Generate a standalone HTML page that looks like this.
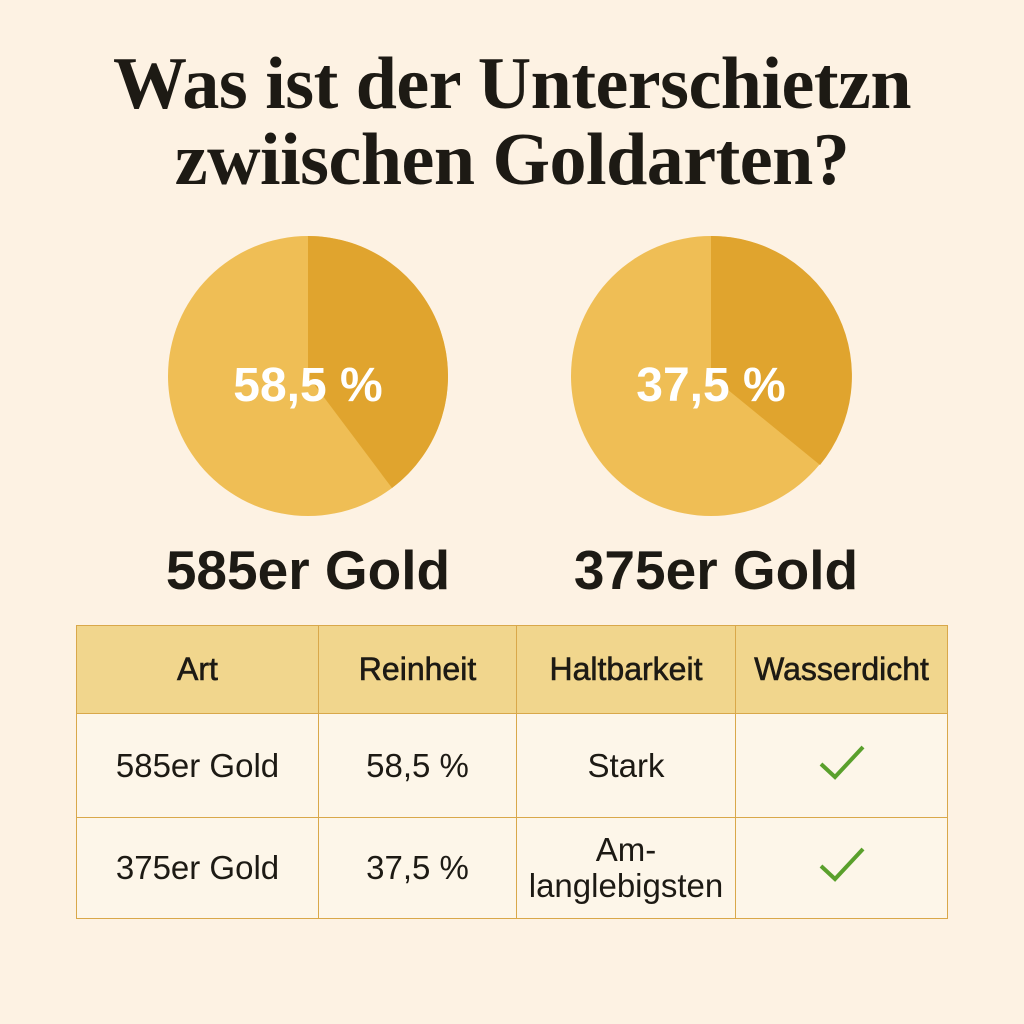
<!DOCTYPE html>
<html><head><meta charset="utf-8"><style>
body{margin:0;width:1024px;height:1024px;background:#fdf2e3;overflow:hidden;position:relative;font-family:"Liberation Sans",sans-serif;color:#1d1a14}
.t{position:absolute;left:0;width:1024px;text-align:center;font-family:"Liberation Serif",serif;font-weight:bold;font-size:74px;letter-spacing:-0.5px}
.l{position:absolute;width:400px;text-align:center;font-weight:bold;font-size:55px}
table{position:absolute;left:76px;top:625px;border-collapse:collapse;width:872px}
td{border:1.5px solid #d9a84a;text-align:center;font-size:33px;background:#fdf6e9;padding:0}
tr.h td{background:#f1d68d;height:87px;font-size:32px;-webkit-text-stroke:0.6px #1d1a14}
</style></head><body>
<div class="t" style="top:42px">Was ist der Unterschietzn</div>
<div class="t" style="top:118px">zwiischen Goldarten?</div>
<svg width="1024" height="1024" style="position:absolute;left:0;top:0">
<circle cx="308" cy="376" r="140" fill="#efbe55"/>
<path d="M308 376 L308 236 A140 140 0 0 1 392 488 Z" fill="#e0a42e"/>
<circle cx="711" cy="376" r="140" fill="#efbe55"/>
<path d="M711 376 L711 236 A140 140 0 0 1 820 465 Z" fill="#e0a42e"/>
<text x="308" y="401" text-anchor="middle" fill="#fff" font-family="Liberation Sans" font-weight="bold" font-size="48">58,5 %</text>
<text x="711" y="401" text-anchor="middle" fill="#fff" font-family="Liberation Sans" font-weight="bold" font-size="48">37,5 %</text>
</svg>
<div class="l" style="left:108px;top:538px">585er Gold</div>
<div class="l" style="left:516px;top:538px">375er Gold</div>
<table>
<tr class="h"><td style="width:241px">Art</td><td style="width:197px">Reinheit</td><td style="width:218px">Haltbarkeit</td><td>Wasserdicht</td></tr>
<tr style="height:104px"><td>585er Gold</td><td>58,5 %</td><td>Stark</td><td><svg width="50" height="40"><path d="M4 22 L18 35 L46 5" stroke="#5aa02c" stroke-width="4" fill="none"/></svg></td></tr>
<tr style="height:101px"><td>375er Gold</td><td>37,5 %</td><td style="line-height:36px">Am-<br>langlebigsten</td><td><svg width="50" height="40"><path d="M4 22 L18 35 L46 5" stroke="#5aa02c" stroke-width="4" fill="none"/></svg></td></tr>
</table>
</body></html>
